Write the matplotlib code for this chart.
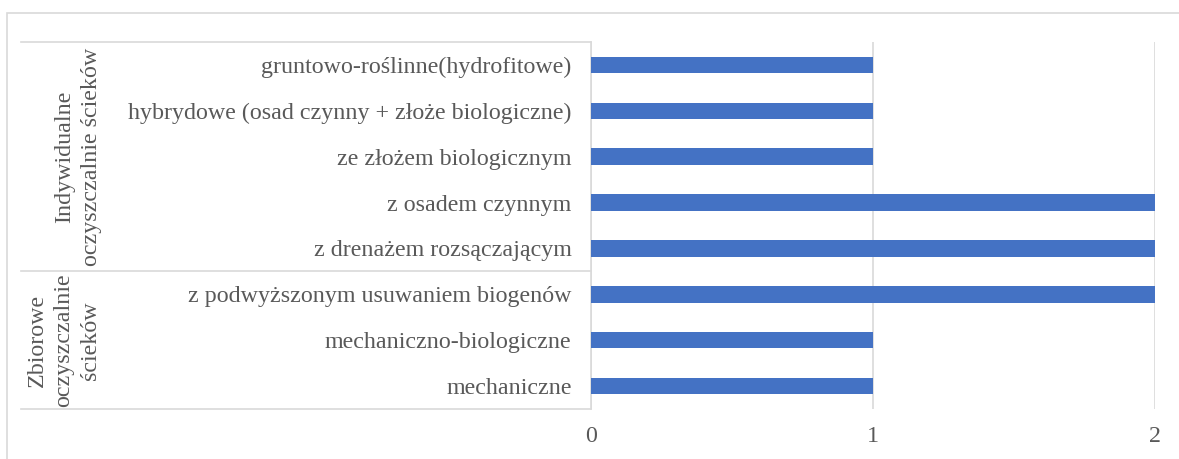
import matplotlib
matplotlib.use("Agg")
import matplotlib.pyplot as plt
from matplotlib.lines import Line2D
from matplotlib.patches import Rectangle

# Categories listed bottom to top
categories = [
    "mechaniczne",
    "mechaniczno-biologiczne",
    "z podwyższonym usuwaniem biogenów",
    "z drenażem rozsączającym",
    "z osadem czynnym",
    "ze złożem biologicznym",
    "hybrydowe (osad czynny + złoże biologiczne)",
    "gruntowo-roślinne(hydrofitowe)",
]
values = [1, 1, 2, 2, 2, 1, 1, 1]
groups = ["Zbiorowe\noczyszczalnie\nścieków", "Indywidualne\noczyszczalnie ścieków"]
group_sizes = [3, 5]
x_ticks = [0, 1, 2]

W, H = 1179, 459
plt.rcParams["font.family"] = ["Liberation Serif", "DejaVu Serif"]
text_color = "#595959"
line_color = "#D9D9D9"
bar_color = "#4472C4"
fs = 17.3

fig = plt.figure(figsize=(W / 100, H / 100), dpi=100)
fig.patch.set_facecolor("white")

# Outer chart border
fig.add_artist(Rectangle((7 / W, -0.1), 1.2, 1 - 13 / H + 0.1, transform=fig.transFigure,
                         fill=False, edgecolor=line_color, linewidth=1.2))

x0, x1 = 591, 1155
y_top, y_bot = 42, 409
ax = fig.add_axes([x0 / W, 1 - y_bot / H, (x1 - x0) / W, (y_bot - y_top) / H])

pos = list(range(len(categories)))
ax.barh(pos, values, height=0.36, color=bar_color, zorder=3)
ax.set_ylim(-0.5, len(categories) - 0.5)
ax.set_xlim(0, 2)
ax.set_xticks(x_ticks)
ax.set_xticklabels([str(t) for t in x_ticks], fontsize=fs, color=text_color)
ax.set_yticks(pos)
ax.set_yticklabels(categories, fontsize=fs, color=text_color)
ax.tick_params(axis="y", length=0, pad=14)
ax.tick_params(axis="x", length=0, pad=12)
ax.grid(axis="x", color=line_color, linewidth=1.2, zorder=0)
for s in ["top", "right", "bottom"]:
    ax.spines[s].set_visible(False)
ax.spines["left"].set_color(line_color)
ax.spines["left"].set_linewidth(1.2)

# Multi-level category table lines
band = (y_bot - y_top) / len(categories)
bounds = [y_bot]
acc = 0
for n in group_sizes:
    acc += n
    bounds.append(y_bot - acc * band)
for yb in bounds:
    fig.add_artist(Line2D([21 / W, x0 / W], [1 - yb / H, 1 - yb / H],
                          transform=fig.transFigure, color=line_color, linewidth=1.2))

# Group labels
group_x = [64, 78]
for i, (g, gx) in enumerate(zip(groups, group_x)):
    yc = (bounds[i] + bounds[i + 1]) / 2
    fig.text(gx / W, 1 - yc / H, g, rotation=90, ha="center", va="center",
             multialignment="center", fontsize=fs, color=text_color, linespacing=1.33)

fig.savefig("out.png", dpi=100)
